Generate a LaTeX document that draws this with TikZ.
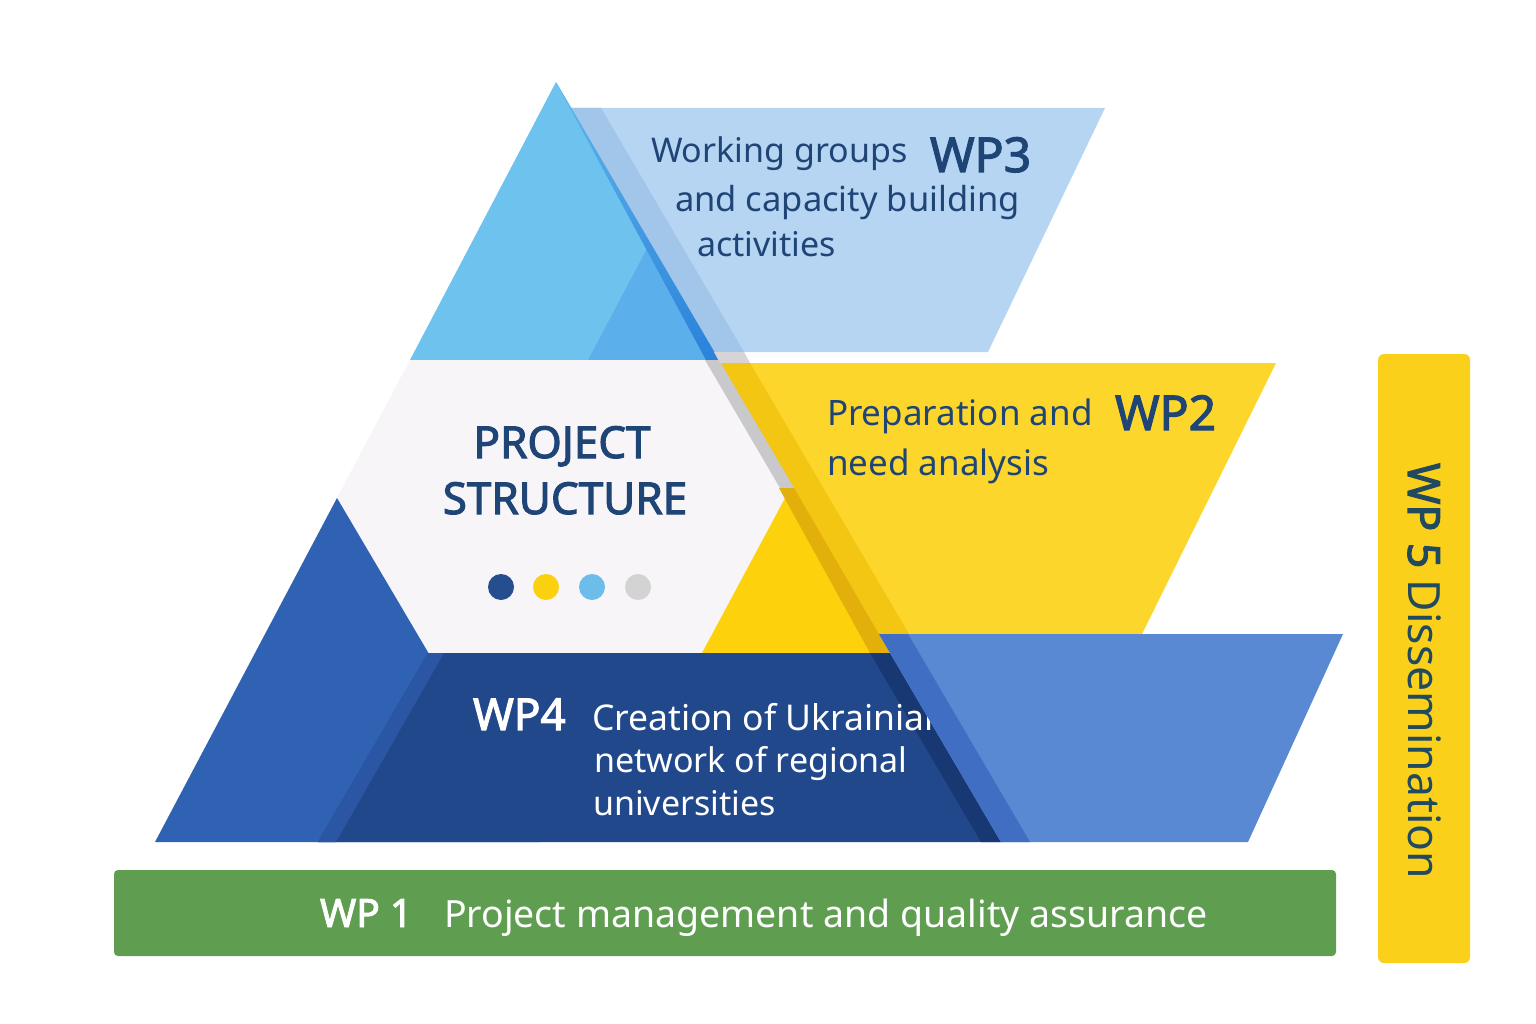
\documentclass[tikz,border=0pt]{standalone}
\usepackage{fontspec}
\setmainfont{Noto Sans}[AutoFakeBold=2.4]
\definecolor{navytxt}{HTML}{1F4577}
\definecolor{wpthree}{HTML}{B6D5F2}
\definecolor{wpthreeband}{HTML}{A2C5EA}
\definecolor{topblue}{HTML}{6DC2EE}
\definecolor{topinner}{HTML}{5BAFEA}
\definecolor{ridgeblue}{HTML}{2A82DA}
\definecolor{gapgray}{HTML}{D6D4D6}
\definecolor{hexwhite}{HTML}{F7F5F7}
\definecolor{leftblue}{HTML}{2F62B3}
\definecolor{wptwo}{HTML}{FDD62B}
\definecolor{wptwoband}{HTML}{F4C614}
\definecolor{ytri}{HTML}{FDD20C}
\definecolor{ridgegray}{HTML}{C9C9CB}
\definecolor{ridgegold}{HTML}{E2AF0B}
\definecolor{wpfour}{HTML}{22488C}
\definecolor{wpfourband}{HTML}{2A56A3}
\definecolor{ridgenavy}{HTML}{183873}
\definecolor{midblue}{HTML}{5A89D4}
\definecolor{midblueband}{HTML}{3F6EC2}
\definecolor{wponegreen}{HTML}{5F9E50}
\definecolor{wpfive}{HTML}{FBD01A}
\definecolor{wpfivetxt}{HTML}{214A5E}
\definecolor{dotnavy}{HTML}{254E8E}
\definecolor{dotyellow}{HTML}{FBD10F}
\definecolor{dotsky}{HTML}{6CBDEA}
\definecolor{dotgray}{HTML}{D3D3D3}
\newcommand{\fsz}[1]{\fontsize{#1}{#1}\selectfont}
\tikzset{
  lbl/.style={inner sep=0pt, outer sep=0pt, anchor=base west},
  body/.style={lbl, font=\fsz{34}},
  wpbold/.style={lbl, font=\fsz{48}\bfseries},
  dotc/.style={circle, minimum size=26pt, inner sep=0pt}
}
\begin{document}
\begin{tikzpicture}[x=1pt,y=-1pt]
\useasboundingbox (0,0) rectangle (1536,1024);
\fill[white] (0,0) rectangle (1536,1024);
% WP3 parallelogram
\fill[wpthree] (571,108) -- (1105,108) -- (988,352) -- (714,352) -- cycle;
\fill[wpthreeband] (571,108) -- (601,108) -- (744,352) -- (714,352) -- cycle;
% top triangle
\fill[topblue] (556,82) -- (410,360) -- (719,360) -- cycle;
\fill[topinner] (588,360) -- (650,243) -- (719,360) -- cycle;
\shade[top color=topblue!80!ridgeblue, bottom color=ridgeblue] (556,82) -- (719,360) -- (706,360) -- cycle;
\fill[gapgray] (714,352) -- (744,352) -- (750,363) -- (720,363) -- cycle;
% white middle
\fill[hexwhite] (410,360) -- (719,360) -- (890,653) -- (255,653) -- cycle;
% left blue triangle
\fill[leftblue] (337,498) -- (155,842) -- (540,842) -- cycle;
% WP2 parallelogram
\fill[wptwo] (720,363) -- (1276,363) -- (1142,634) -- (879,634) -- cycle;
\fill[wptwoband] (720,363) -- (750,363) -- (909,634) -- (879,634) -- cycle;
% yellow small triangle and ridge
\fill[ytri] (702,653) -- (791,487) -- (890,653) -- cycle;
\fill[ridgegray] (705,360) -- (719,360) -- (794,488) -- (780,488) -- cycle;
\fill[ridgegold] (779,488) -- (794,488) -- (890,653) -- (870,653) -- cycle;
% WP4 trapezoid
\fill[wpfour] (428,653) -- (890,653) -- (1001,842) -- (318,842) -- cycle;
\fill[wpfourband] (428,653) -- (444,653) -- (336,842) -- (318,842) -- cycle;
\fill[ridgenavy] (870,653) -- (890,653) -- (1001,842) -- (981,842) -- cycle;
% WP4 text
\node[wpbold, text=white, font=\fsz{44}\bfseries] (wp4) at (473,730) {WP4};
\node[body, text=white, font=\fsz{35.5}] (wp4a) at (592,730) {Creation of Ukrainian};
\node[body, text=white] (wp4b) at (594,772) {network of regional};
\node[body, text=white] (wp4c) at (593,815) {universities};
% medium blue parallelogram (covers end of WP4 line)
\fill[midblue] (879,634) -- (1343,634) -- (1248,842) -- (1001,842) -- cycle;
\fill[midblueband] (879,634) -- (908,634) -- (1030,842) -- (1001,842) -- cycle;
% WP3 text
\node[body, text=navytxt] (wp3a) at (651,163) {Working groups};
\node[wpbold, text=navytxt] (wp3) at (930,172) {WP3};
\node[body, text=navytxt, font=\fsz{34.5}] (wp3b) at (675,212) {and capacity building};
\node[body, text=navytxt] (wp3c) at (697,257) {activities};
% WP2 text
\node[body, text=navytxt, font=\fsz{35}] (wp2a) at (827,425) {Preparation and};
\node[wpbold, text=navytxt] (wp2) at (1115,430) {WP2};
\node[body, text=navytxt, font=\fsz{35}] (wp2b) at (827,475) {need analysis};
% title
\node[inner sep=0pt, anchor=base, text=navytxt, font=\fsz{44}\bfseries] (ttla) at (562,458) {PROJECT};
\node[inner sep=0pt, anchor=base, text=navytxt, font=\fsz{44}\bfseries] (ttlb) at (565,514) {STRUCTURE};
% dots
\node[dotc, fill=dotnavy] (d1) at (501,587) {};
\node[dotc, fill=dotyellow] (d2) at (546,587) {};
\node[dotc, fill=dotsky] (d3) at (592,587) {};
\node[dotc, fill=dotgray] (d4) at (638,587) {};
% WP1 bar
\fill[wponegreen, rounded corners=4pt] (114,870) rectangle (1336,956);
\node[lbl, text=white, font=\fsz{39}\bfseries] (wp1) at (320,927) {WP 1};
\node[lbl, text=white, font=\fsz{37.5}] (wp1t) at (444,927) {Project management and quality assurance};
% WP5 bar
\fill[wpfive, rounded corners=6pt] (1378,354) rectangle (1470,963);
\node[lbl, rotate=-90, text=wpfivetxt, font=\fsz{44.5}] (wp5) at (1408,463) {\textbf{WP 5} Dissemination};
\end{tikzpicture}
\end{document}
